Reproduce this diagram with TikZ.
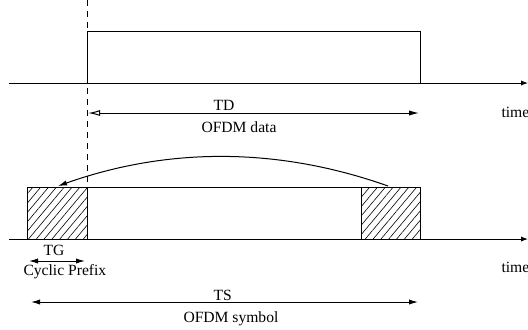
\documentclass[tikz,border=0pt]{standalone}
\usepackage{fontspec}
\setmainfont{Liberation Serif}
\usetikzlibrary{arrows.meta,patterns.meta}

\begin{document}
\begin{tikzpicture}[x=0.5pt, y=-0.5pt, line width=0.5pt,
  eje/.style={-{Latex[length=3.5pt,width=2.6pt]}},
  cota/.style={{Latex[length=4.5pt,width=2.6pt]}-{Latex[length=4.5pt,width=2.6pt]}},
  rayado/.style={pattern={Lines[angle=50,distance=3pt,line width=0.3pt]}},
  texto/.style={inner sep=0pt, anchor=base west, font=\fontsize{7.8}{9}\selectfont}]

  \useasboundingbox (0,0) rectangle (528,329);

  % Primer eje (datos OFDM)
  \coordinate (a0) at (9,83);
  \coordinate (a1) at (528,83);
  \draw[eje] (a0) -- (a1);
  \draw (87,83) -- (87,31) -- (420,31) -- (420,83);
  \draw[dash pattern=on 3pt off 2.5pt] (87,0) -- (87,187);

  \coordinate (d0) at (88,113);
  \coordinate (d1) at (419,113);
  \draw[{Latex[open,length=6pt,width=3pt]}-{Latex[length=5pt,width=2.6pt]}] (d0) -- (d1);

  \node[texto] (td) at (213,110) {TD};
  \node[texto] (datos) at (201,132) {OFDM data};
  \node[texto] (t1) at (501,117) {time};

  % Segundo eje (simbolo con prefijo)
  \coordinate (b0) at (9,239);
  \coordinate (b1) at (528,239);
  \fill[rayado] (27,187) rectangle (87,239);
  \fill[rayado] (361,187) rectangle (420,239);
  \draw (27,187) rectangle (420,239);
  \draw (87,187) -- (87,239);
  \draw (361,187) -- (361,239);
  \draw[eje] (b0) -- (b1);

  \coordinate (c0) at (388,186);
  \coordinate (c1) at (58,186);
  \draw[-{Latex[length=4.5pt,width=2.6pt]}] (c0) .. controls (278,147) and (168,147) .. (c1);

  \coordinate (g0) at (29,261);
  \coordinate (g1) at (85,261);
  \draw[cota] (g0) -- (g1);
  \node[texto] (tg) at (43,255) {TG};
  \node[texto] (prefijo) at (23,275) {Cyclic Prefix};
  \node[texto] (t2) at (501,272) {time};

  \coordinate (s0) at (31,302);
  \coordinate (s1) at (418,302);
  \draw[cota] (s0) -- (s1);
  \node[texto] (ts) at (213,300) {TS};
  \node[texto] (simbolo) at (183,322) {OFDM symbol};

\end{tikzpicture}
\end{document}
